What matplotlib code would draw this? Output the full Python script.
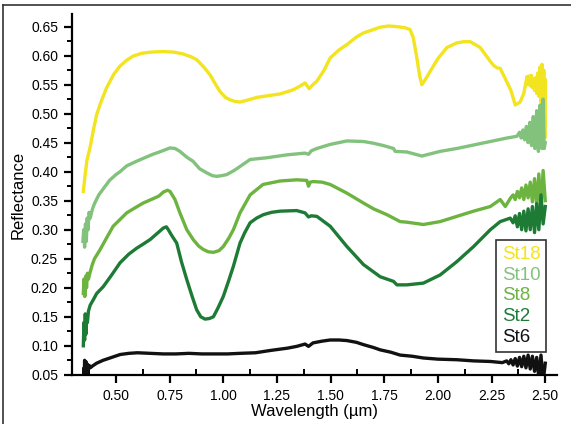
import numpy as np
import matplotlib
matplotlib.use("Agg")
import matplotlib.pyplot as plt
from matplotlib.ticker import MultipleLocator, FormatStrFormatter

plt.rcParams['font.family'] = ['Liberation Sans', 'DejaVu Sans']

# -- spectra (wavelength in um, reflectance)
st18_w = [0.348, 0.355, 0.365, 0.379, 0.395, 0.41, 0.43, 0.457, 0.49, 0.519, 0.55, 0.579, 0.62, 0.66,
          0.719, 0.77, 0.812, 0.85, 0.876, 0.91, 0.938, 0.96, 0.985, 1.01, 1.031, 1.055, 1.078, 1.12,
          1.156, 1.21, 1.265, 1.325, 1.36, 1.381, 1.40, 1.415, 1.436, 1.47, 1.498, 1.54, 1.576, 1.62,
          1.653, 1.70, 1.731, 1.77, 1.809, 1.847, 1.87, 1.885, 1.90, 1.915, 1.925, 1.94, 1.964, 2.0,
          2.042, 2.088, 2.12, 2.15, 2.197, 2.244, 2.26, 2.275, 2.29, 2.314, 2.34, 2.36, 2.383, 2.40,
          2.415, 2.42, 2.425, 2.43, 2.435, 2.44, 2.445, 2.45, 2.455, 2.46, 2.465, 2.47, 2.475, 2.48,
          2.485, 2.49, 2.493, 2.496, 2.498, 2.50]
st18_r = [0.366, 0.39, 0.42, 0.441, 0.472, 0.498, 0.52, 0.545, 0.568, 0.582, 0.592, 0.599, 0.604, 0.606,
          0.607, 0.606, 0.603, 0.598, 0.593, 0.58, 0.567, 0.553, 0.538, 0.528, 0.524, 0.521, 0.52, 0.524,
          0.528, 0.531, 0.534, 0.541, 0.548, 0.553, 0.543, 0.549, 0.556, 0.575, 0.596, 0.61, 0.619, 0.632,
          0.639, 0.645, 0.649, 0.651, 0.65, 0.648, 0.645, 0.631, 0.60, 0.565, 0.55, 0.558, 0.573, 0.595,
          0.614, 0.622, 0.624, 0.624, 0.614, 0.59, 0.583, 0.579, 0.578, 0.56, 0.54, 0.515, 0.52, 0.535,
          0.564, 0.55, 0.565, 0.548, 0.566, 0.545, 0.56, 0.54, 0.562, 0.535, 0.57, 0.53, 0.58, 0.52,
          0.585, 0.51, 0.575, 0.48, 0.56, 0.46]

st10_w = [0.346, 0.35, 0.354, 0.358, 0.362, 0.366, 0.37, 0.375, 0.38, 0.39, 0.40, 0.42, 0.44, 0.47, 0.5,
          0.519, 0.55, 0.596, 0.64, 0.672, 0.71, 0.752, 0.775, 0.798, 0.83, 0.859, 0.89, 0.923, 0.95,
          0.97, 0.99, 1.016, 1.05, 1.078, 1.125, 1.203, 1.296, 1.38, 1.397, 1.41, 1.436, 1.498, 1.576,
          1.653, 1.70, 1.746, 1.793, 1.801, 1.855, 1.925, 2.01, 2.088, 2.166, 2.244, 2.321, 2.368,
          2.38, 2.388, 2.396, 2.404, 2.412, 2.42, 2.428, 2.436, 2.444, 2.452, 2.46, 2.468, 2.476, 2.484,
          2.49, 2.495, 2.50]
st10_r = [0.28, 0.30, 0.27, 0.31, 0.28, 0.32, 0.30, 0.33, 0.32, 0.335, 0.345, 0.36, 0.37, 0.385, 0.395,
          0.40, 0.41, 0.418, 0.425, 0.43, 0.435, 0.441, 0.44, 0.435, 0.425, 0.418, 0.405, 0.398, 0.393,
          0.392, 0.393, 0.395, 0.402, 0.409, 0.421, 0.424, 0.429, 0.432, 0.43, 0.436, 0.44, 0.447, 0.453,
          0.452, 0.449, 0.445, 0.44, 0.435, 0.434, 0.427, 0.435, 0.44, 0.446, 0.452, 0.458, 0.461,
          0.468, 0.458, 0.472, 0.455, 0.478, 0.45, 0.485, 0.445, 0.495, 0.44, 0.505, 0.435, 0.515, 0.44,
          0.525, 0.44, 0.45]

st8_w = [0.348, 0.351, 0.355, 0.359, 0.363, 0.367, 0.372, 0.379, 0.39, 0.40, 0.425, 0.455, 0.487, 0.52,
         0.55, 0.59, 0.627, 0.67, 0.70, 0.721, 0.74, 0.752, 0.775, 0.798, 0.83, 0.86, 0.885, 0.907,
         0.93, 0.954, 0.98, 1.0, 1.025, 1.047, 1.078, 1.125, 1.185, 1.265, 1.342, 1.389, 1.397, 1.405,
         1.418, 1.46, 1.498, 1.576, 1.653, 1.70, 1.762, 1.824, 1.855, 1.932, 2.01, 2.088, 2.166, 2.244,
         2.29, 2.314, 2.337, 2.35, 2.36, 2.37, 2.38, 2.39, 2.40, 2.41, 2.42, 2.43, 2.44, 2.45, 2.46,
         2.47, 2.48, 2.49, 2.50]
st8_r = [0.19, 0.215, 0.185, 0.22, 0.20, 0.225, 0.215, 0.226, 0.24, 0.25, 0.265, 0.285, 0.306, 0.318,
         0.329, 0.338, 0.346, 0.353, 0.358, 0.365, 0.368, 0.366, 0.352, 0.329, 0.30, 0.283, 0.272, 0.266,
         0.262, 0.261, 0.264, 0.271, 0.285, 0.30, 0.329, 0.36, 0.378, 0.384, 0.386, 0.385, 0.375, 0.382,
         0.383, 0.382, 0.378, 0.363, 0.346, 0.336, 0.326, 0.314, 0.313, 0.309, 0.314, 0.323, 0.332, 0.34,
         0.352, 0.34, 0.354, 0.36, 0.352, 0.366, 0.355, 0.372, 0.352, 0.377, 0.355, 0.382, 0.348, 0.388,
         0.342, 0.396, 0.335, 0.402, 0.35]

st2_w = [0.348, 0.351, 0.354, 0.357, 0.36, 0.363, 0.367, 0.372, 0.38, 0.394, 0.41, 0.441, 0.48, 0.519,
         0.56, 0.596, 0.63, 0.659, 0.69, 0.721, 0.735, 0.744, 0.76, 0.783, 0.805, 0.83, 0.855, 0.876,
         0.895, 0.915, 0.935, 0.954, 0.975, 1.0, 1.025, 1.047, 1.078, 1.10, 1.125, 1.155, 1.187, 1.225,
         1.265, 1.342, 1.381, 1.397, 1.41, 1.436, 1.498, 1.576, 1.653, 1.731, 1.793, 1.809, 1.855,
         1.932, 2.01, 2.088, 2.166, 2.244, 2.29, 2.337, 2.35, 2.36, 2.37, 2.38, 2.39, 2.40, 2.41, 2.42,
         2.43, 2.44, 2.45, 2.46, 2.47, 2.48, 2.49, 2.50]
st2_r = [0.10, 0.14, 0.11, 0.155, 0.12, 0.15, 0.14, 0.16, 0.17, 0.179, 0.19, 0.202, 0.222, 0.243,
         0.258, 0.268, 0.276, 0.283, 0.293, 0.303, 0.305, 0.30, 0.29, 0.277, 0.245, 0.214, 0.185, 0.162,
         0.15, 0.146, 0.147, 0.15, 0.165, 0.185, 0.212, 0.237, 0.277, 0.295, 0.312, 0.32, 0.326, 0.33,
         0.332, 0.333, 0.329, 0.322, 0.324, 0.323, 0.306, 0.271, 0.24, 0.219, 0.211, 0.205, 0.205,
         0.208, 0.222, 0.245, 0.271, 0.30, 0.314, 0.32, 0.312, 0.324, 0.305, 0.328, 0.30, 0.332, 0.298,
         0.336, 0.30, 0.34, 0.295, 0.345, 0.30, 0.36, 0.31, 0.34]

st6_w = [0.35, 0.352, 0.354, 0.356, 0.358, 0.36, 0.362, 0.365, 0.368, 0.372, 0.376, 0.38, 0.39, 0.41,
         0.44, 0.48, 0.52, 0.56, 0.60, 0.66, 0.72, 0.78, 0.84, 0.90, 0.96, 1.02, 1.078, 1.15, 1.22,
         1.30, 1.342, 1.381, 1.397, 1.418, 1.46, 1.498, 1.54, 1.576, 1.62, 1.653, 1.70, 1.731, 1.78,
         1.824, 1.88, 1.932, 2.0, 2.088, 2.166, 2.244, 2.30, 2.32, 2.33, 2.34, 2.35, 2.36, 2.37, 2.38,
         2.39, 2.40, 2.41, 2.42, 2.43, 2.44, 2.45, 2.46, 2.47, 2.48, 2.49, 2.50]
st6_r = [0.06, 0.04, 0.075, 0.035, 0.07, 0.045, 0.072, 0.05, 0.068, 0.06, 0.066, 0.062, 0.065, 0.07,
         0.075, 0.08, 0.085, 0.087, 0.088, 0.087, 0.086, 0.086, 0.087, 0.086, 0.086, 0.086, 0.087, 0.088,
         0.092, 0.096, 0.099, 0.103, 0.099, 0.105, 0.108, 0.11, 0.11, 0.109, 0.106, 0.102, 0.097, 0.093,
         0.089, 0.084, 0.082, 0.079, 0.077, 0.076, 0.074, 0.073, 0.071, 0.074, 0.069, 0.076, 0.067,
         0.078, 0.065, 0.08, 0.064, 0.082, 0.062, 0.084, 0.06, 0.082, 0.056, 0.08, 0.045, 0.084, 0.038, 0.07]

labels = ['St18', 'St10', 'St8', 'St2', 'St6']
colors = ['#f2e41e', '#82c27d', '#6cb33f', '#1e7b36', '#111111']
series = [(st18_w, st18_r), (st10_w, st10_r), (st8_w, st8_r), (st2_w, st2_r), (st6_w, st6_r)]

fig = plt.figure(figsize=(5.71, 4.24), dpi=100)
ax = fig.add_axes([0.126, 0.116, 0.85, 0.85])

lines = []
for (w, r), c, lab in zip(series, colors, labels):
    ln, = ax.plot(w, r, color=c, lw=2.4, label=lab, solid_joinstyle='round')
    lines.append(ln)

ax.set_xlim(0.295, 2.556)
ax.set_ylim(0.05, 0.671)
ax.spines['top'].set_visible(False)
ax.spines['right'].set_visible(False)
ax.spines['left'].set_linewidth(1.6)
ax.spines['bottom'].set_linewidth(1.6)

ax.set_xticks([0.5, 0.75, 1.0, 1.25, 1.5, 1.75, 2.0, 2.25, 2.5])
ax.xaxis.set_minor_locator(MultipleLocator(0.125))
ax.set_yticks(np.arange(0.05, 0.66, 0.05))
ax.yaxis.set_minor_locator(MultipleLocator(0.025))
ax.xaxis.set_major_formatter(FormatStrFormatter('%.2f'))
ax.yaxis.set_major_formatter(FormatStrFormatter('%.2f'))
ax.tick_params(axis='both', which='major', labelsize=10, width=1.6, length=6, direction='out', pad=4)
ax.tick_params(axis='x', which='minor', width=1.4, length=4, direction='in')
ax.tick_params(axis='y', which='minor', width=1.4, length=3.5, direction='out')

ax.set_xlabel('Wavelength (\u00b5m)', fontsize=12, labelpad=1)
ax.set_ylabel('Reflectance', fontsize=12, labelpad=4)

leg = ax.legend(handles=lines, labels=labels, loc='lower right', bbox_to_anchor=(0.977, 0.064),
                borderaxespad=0, handlelength=0, handletextpad=0, fontsize=13.5, labelspacing=0.2,
                fancybox=False, frameon=True, borderpad=0.3, labelcolor=colors)
leg.get_frame().set_edgecolor('black')
leg.get_frame().set_linewidth(1.2)
for h in leg.legend_handles:
    h.set_visible(False)

# -- frame lines at top and left of the figure
fig.add_artist(plt.Line2D([0.005, 0.005], [0.0, 0.988], color='#333333', lw=1.2, transform=fig.transFigure))
fig.add_artist(plt.Line2D([0.005, 1.0], [0.988, 0.988], color='#333333', lw=1.2, transform=fig.transFigure))

plt.savefig('out.png', dpi=100)
